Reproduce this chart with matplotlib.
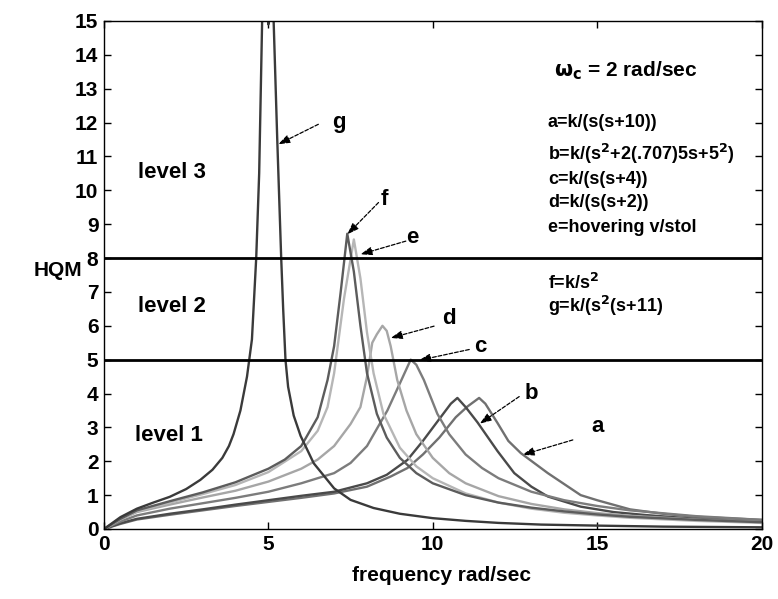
import matplotlib
matplotlib.use("Agg")
import matplotlib.pyplot as plt

plt.rcParams['font.family'] = ['Liberation Sans', 'DejaVu Sans']
plt.rcParams['font.weight'] = 'bold'

# ---- frequency responses (rad/sec vs HQM) ----
g_x = [0, 0.5, 1, 1.5, 2, 2.5, 2.93, 3.3, 3.6, 3.8, 3.94, 4.15, 4.35, 4.5, 4.63, 4.72, 4.81,
       4.9, 5.0, 5.08, 5.16, 5.27, 5.39, 5.45, 5.52, 5.6, 5.77, 5.98, 6.38, 7.0, 7.5, 8.2,
       9.0, 10.0, 11.0, 12.0, 13.3, 15.0, 17.0, 20.0]
g_y = [0, 0.35, 0.6, 0.78, 0.95, 1.18, 1.45, 1.75, 2.1, 2.45, 2.8, 3.5, 4.5, 5.6, 8.0, 10.5, 15.0,
       24.0, 14.9, 24.0, 15.0, 11.5, 8.0, 6.5, 5.0, 4.2, 3.35, 2.75, 1.94, 1.2, 0.86, 0.62,
       0.45, 0.32, 0.24, 0.18, 0.13, 0.1, 0.07, 0.05]

f_x = [0, 0.5, 1, 2, 3, 4, 5, 5.5, 6, 6.5, 6.8, 7.0, 7.2, 7.4, 7.6, 7.8, 8.0, 8.3, 8.6,
       9.0, 9.5, 10, 11, 12, 13, 14, 15, 16, 18, 20]
f_y = [0, 0.3, 0.55, 0.82, 1.08, 1.38, 1.78, 2.05, 2.45, 3.3, 4.4, 5.4, 7.0, 8.72, 7.6, 6.0,
       4.6, 3.4, 2.7, 2.1, 1.65, 1.35, 1.0, 0.78, 0.63, 0.52, 0.43, 0.36, 0.27, 0.2]

e_x = [0, 0.5, 1, 2, 3, 4, 5, 6, 6.5, 6.8, 7.0, 7.3, 7.6, 7.8, 8.0, 8.2, 8.5, 9.0, 9.5,
       10, 11, 12, 13, 14, 15, 16, 18, 20]
e_y = [0, 0.29, 0.52, 0.78, 1.03, 1.3, 1.68, 2.3, 2.9, 3.6, 4.6, 6.8, 8.55, 7.4, 5.8, 4.6,
       3.4, 2.4, 1.85, 1.5, 1.05, 0.78, 0.6, 0.48, 0.4, 0.33, 0.24, 0.18]

d_x = [0, 0.5, 1, 2, 3, 4, 5, 6, 6.5, 7, 7.5, 7.8, 8.0, 8.16, 8.3, 8.47, 8.6, 8.72, 8.92,
       9.2, 9.5, 10, 10.5, 11, 12, 13, 14, 15, 16, 18, 20]
d_y = [0, 0.28, 0.5, 0.72, 0.93, 1.13, 1.4, 1.78, 2.05, 2.45, 3.1, 3.6, 4.5, 5.5, 5.75, 6.0,
       5.85, 5.4, 4.4, 3.5, 2.8, 2.1, 1.65, 1.35, 0.97, 0.74, 0.58, 0.47, 0.39, 0.28, 0.2]

c_x = [0, 0.5, 1, 2, 3, 4, 5, 6, 7, 7.5, 8, 8.62, 9.0, 9.33, 9.5, 9.73, 10.14, 10.5, 11,
       11.5, 12, 13, 14, 15, 16, 18, 20]
c_y = [0, 0.22, 0.4, 0.6, 0.76, 0.92, 1.1, 1.35, 1.65, 1.95, 2.45, 3.5, 4.3, 5.0, 4.85, 4.4,
       3.4, 2.8, 2.2, 1.8, 1.5, 1.1, 0.85, 0.68, 0.55, 0.38, 0.27]

b_x = [0, 0.5, 1, 2, 3, 4, 5, 6, 7, 8, 8.6, 9.23, 9.7, 10.24, 10.55, 10.75, 11.0, 11.36,
       11.97, 12.48, 13, 13.5, 14.5, 15.5, 16.5, 18, 20]
b_y = [0, 0.17, 0.3, 0.45, 0.58, 0.72, 0.85, 0.98, 1.1, 1.35, 1.6, 2.04, 2.6, 3.3, 3.7, 3.87,
       3.6, 3.15, 2.3, 1.65, 1.25, 0.96, 0.66, 0.5, 0.41, 0.3, 0.2]

a_x = [0, 0.5, 1, 2, 3, 4, 5, 6, 7, 8, 8.72, 9.23, 9.7, 10.2, 10.7, 11.06, 11.41, 11.6,
       11.97, 12.3, 12.68, 13.5, 14.5, 15, 16, 17, 18, 20]
a_y = [0, 0.15, 0.28, 0.42, 0.55, 0.68, 0.8, 0.92, 1.05, 1.25, 1.55, 1.8, 2.2, 2.7, 3.3,
       3.62, 3.87, 3.7, 3.13, 2.6, 2.24, 1.65, 1.0, 0.85, 0.58, 0.45, 0.36, 0.27]

curves = [
    (a_x, a_y, '#707070'),
    (b_x, b_y, '#4a4a4a'),
    (c_x, c_y, '#7c7c7c'),
    (d_x, d_y, '#a6a6a6'),
    (e_x, e_y, '#b6b6b6'),
    (f_x, f_y, '#5c5c5c'),
    (g_x, g_y, '#3a3a3a'),
]

level_bounds = [5, 8]

# curve tags: (text, text position, arrow tail, arrow head)
tags = [
    ('g', (7.13, 12.0), (6.52, 11.95), (5.30, 11.36)),
    ('f', (8.52, 9.73), (8.35, 9.64), (7.40, 8.70)),
    ('e', (9.38, 8.60), (9.18, 8.50), (7.80, 8.11)),
    ('d', (10.50, 6.23), (10.04, 5.99), (8.72, 5.64)),
    ('c', (11.46, 5.39), (11.11, 5.30), (9.58, 4.98)),
    ('b', (12.99, 3.99), (12.63, 3.91), (11.43, 3.11)),
    ('a', (15.02, 3.03), (14.26, 2.63), (12.73, 2.19)),
]

levels = [('level 3', 1.04, 10.53), ('level 2', 1.04, 6.58), ('level 1', 0.95, 2.75)]

plant_lines = [
    ('a=k/(s(s+10))', 12.0),
    ('b=k/(s$^2$+2(.707)5s+5$^2$)', 11.07),
    ('c=k/(s(s+4))', 10.33),
    ('d=k/(s(s+2))', 9.64),
    ('e=hovering v/stol', 8.9),
    ('f=k/s$^2$', 7.28),
    ('g=k/(s$^2$(s+11)', 6.58),
]

fig = plt.figure(figsize=(7.78, 5.99), dpi=100)
ax = fig.add_axes([104 / 778, 1 - 529 / 599, (761.5 - 104) / 778, (529 - 21) / 599])

for xs, ys, col in curves:
    ax.plot(xs, ys, color=col, lw=1.7, zorder=2, solid_joinstyle='round')

for yb in level_bounds:
    ax.axhline(yb, color='black', lw=2.0, zorder=4)

ax.set_xlim(0, 20)
ax.set_ylim(0, 15)
ax.set_xticks([0, 5, 10, 15, 20])
ax.set_yticks(range(0, 16))
ax.tick_params(direction='in', length=5, width=1, labelsize=15, pad=4,
               top=True, right=True)
for lab in ax.get_xticklabels() + ax.get_yticklabels():
    lab.set_fontweight('bold')
for sp in ax.spines.values():
    sp.set_linewidth(1.0)

ax.set_xlabel('frequency rad/sec', fontsize=15, fontweight='bold')
ax.xaxis.set_label_coords((441 - 104) / 657.5, -0.072)
fig.text(58 / 778, 1 - 271 / 599, 'HQM', fontsize=15, fontweight='bold',
         ha='center', va='center')

for txt, xx, yy in levels:
    ax.text(xx, yy, txt, fontsize=16, fontweight='bold', ha='left', va='center')

for name, (tx, ty), tail, head in tags:
    ax.text(tx, ty, name, fontsize=16, fontweight='bold', ha='center', va='center')
    ax.annotate('', xy=head, xytext=tail,
                arrowprops=dict(arrowstyle='-|>,head_length=0.7,head_width=0.25',
                                color='black', lw=0.9, linestyle=(0, (3, 1.5)),
                                shrinkA=0, shrinkB=0))

ax.text(13.68, 13.53, r'$\mathbf{\omega}_{\mathbf{c}}$' + ' = 2 rad/sec', fontsize=15,
        fontweight='bold', ha='left', va='center')
for txt, yy in plant_lines:
    ax.text(13.5, yy, txt, fontsize=13, fontweight='bold', ha='left', va='center')

fig.savefig('out.png', dpi=100)
